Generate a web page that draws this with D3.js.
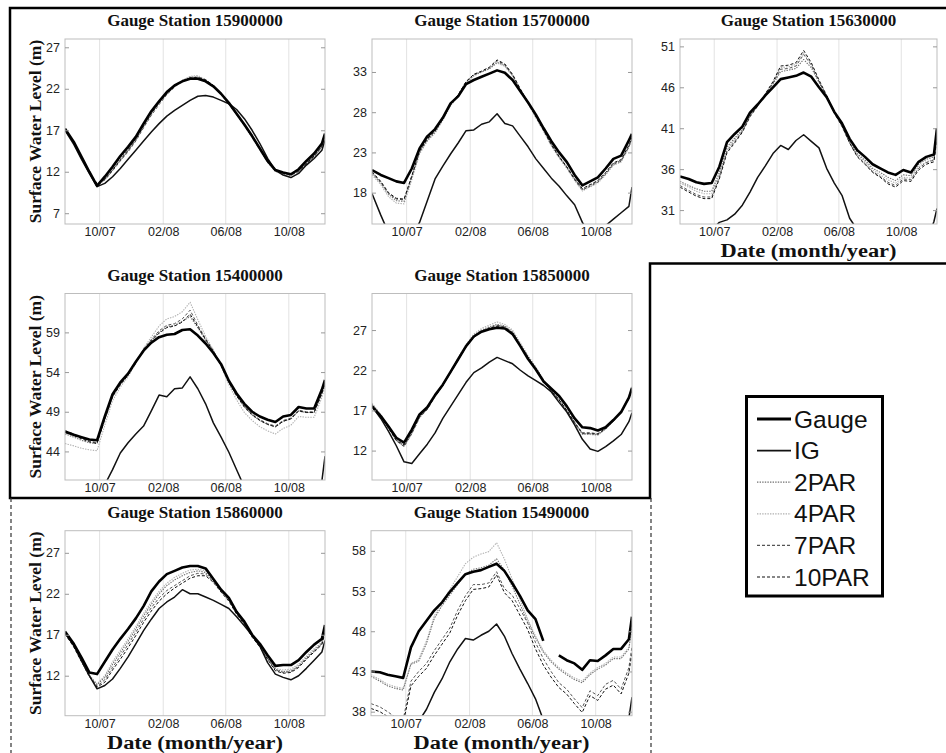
<!DOCTYPE html>
<html>
<head>
<meta charset="utf-8">
<script src="https://cdn.jsdelivr.net/npm/d3@7"></script>
<style>
  body { margin: 0; background: #fff; }
  svg { display: block; }
</style>
</head>
<body>
<svg id="fig" width="946" height="753"></svg>
<script>
// Sample dates (roughly every 15 days, Jul 2007 - Dec 2008)
const dateStrings = ["2007-07-26","2007-08-12","2007-08-27","2007-09-11","2007-09-26","2007-10-11","2007-10-26",
  "2007-11-10","2007-11-25","2007-12-10","2007-12-25","2008-01-09","2008-01-24","2008-02-08","2008-02-23",
  "2008-03-09","2008-03-24","2008-04-08","2008-04-23","2008-05-08","2008-05-23","2008-06-07","2008-06-22",
  "2008-07-07","2008-07-22","2008-08-06","2008-08-21","2008-09-05","2008-09-20","2008-10-05","2008-10-20",
  "2008-11-04","2008-11-19","2008-12-04","2008-12-10"];

const seriesNames = ["Gauge", "IG", "2PAR", "4PAR", "7PAR", "10PAR"];
const xTickDates = ["2007-10-01", "2008-02-01", "2008-06-01", "2008-10-01"];
const xTickLabels = ["10/07", "02/08", "06/08", "10/08"];

// ---- Station 15900000 ----
const yTicks15900000 = [7, 12, 17, 22, 27];
const gauge15900000 = [17.2,15.6,13.8,12.0,10.3,11.4,12.6,13.9,15.0,16.2,17.8,19.3,20.5,21.6,22.4,22.9,23.2,23.2,22.9,22.3,21.4,20.3,19.0,17.7,16.3,14.8,13.3,12.2,11.9,11.7,12.3,13.3,14.2,15.4,16.6];
const ig15900000 = [17.0,15.3,13.5,11.8,10.2,10.6,11.4,12.4,13.5,14.6,15.7,16.8,17.8,18.7,19.4,20.0,20.6,21.1,21.2,21.0,20.6,20.2,19.5,18.4,17.0,15.4,13.6,12.2,11.6,11.3,11.8,12.8,13.6,14.6,15.8];
const par2_15900000 = [17.1,15.5,13.7,11.9,10.4,11.2,12.4,13.6,14.7,16.0,17.6,19.1,20.4,21.5,22.4,23.0,23.4,23.4,23.0,22.3,21.3,20.2,18.9,17.6,16.2,14.7,13.2,12.1,11.8,11.6,12.1,13.0,13.9,15.1,16.4];
const par4_15900000 = [17.0,15.4,13.6,11.8,10.3,11.0,12.2,13.4,14.5,15.8,17.4,18.9,20.2,21.4,22.3,23.0,23.5,23.6,23.1,22.4,21.3,20.2,18.9,17.5,16.1,14.6,13.1,12.0,11.7,11.5,12.0,12.9,13.8,15.0,16.3];
const par7_15900000 = [17.1,15.5,13.7,11.9,10.5,11.0,12.1,13.3,14.4,15.7,17.3,18.8,20.1,21.3,22.2,22.9,23.3,23.3,23.0,22.3,21.3,20.2,18.9,17.6,16.2,14.7,13.2,12.1,11.8,11.6,12.0,12.9,13.8,15.0,16.3];
const par10_15900000 = [17.1,15.5,13.7,11.9,10.6,11.1,12.2,13.4,14.6,15.9,17.5,19.0,20.3,21.4,22.3,22.9,23.3,23.4,23.1,22.4,21.4,20.3,19.0,17.6,16.2,14.7,13.2,12.1,11.9,11.7,12.1,13.0,13.9,15.1,16.4];

// ---- Station 15700000 ----
const yTicks15700000 = [18, 23, 28, 33];
const gauge15700000 = [20.8,20.2,19.8,19.4,19.2,21.0,23.5,25.0,25.9,27.3,29.1,30.0,31.5,32.0,32.4,32.8,33.2,32.9,32.0,30.6,29.2,27.7,26.0,24.4,23.0,21.8,20.2,18.9,19.4,19.9,21.0,22.2,22.6,24.5,25.3];
const ig15700000 = [17.9,15.2,13.0,12.0,11.5,12.5,14.3,17.0,19.7,21.3,22.8,24.2,25.7,25.8,26.5,26.8,27.8,26.6,26.3,25.0,23.7,22.2,21.0,19.8,18.8,17.6,16.5,14.3,12.8,12.2,13.9,14.7,15.5,16.3,18.7];
const par2_15700000 = [20.4,19.2,17.8,17.0,16.9,19.9,23.0,24.5,25.5,27.1,28.9,30.1,31.7,32.6,33.0,33.4,34.2,33.8,32.6,30.8,29.2,27.5,25.8,24.0,22.5,21.2,19.7,18.4,18.9,19.4,20.4,21.6,22.0,23.8,24.8];
const par4_15700000 = [20.2,19.0,17.5,16.7,16.6,19.6,22.8,24.4,25.4,27.0,28.8,30.0,31.6,32.5,33.0,33.4,34.1,33.7,32.5,30.7,29.0,27.3,25.6,23.8,22.3,21.0,19.5,18.2,18.7,19.2,20.2,21.4,21.8,23.6,24.6];
const par7_15700000 = [20.5,19.3,17.9,17.2,17.1,20.0,23.1,24.6,25.6,27.2,29.0,30.2,31.8,32.7,33.1,33.5,34.4,33.9,32.6,30.8,29.1,27.4,25.7,23.9,22.4,21.1,19.6,18.3,18.8,19.3,20.3,21.5,21.9,23.7,24.7];
const par10_15700000 = [20.6,19.4,18.0,17.3,17.2,20.1,23.2,24.7,25.7,27.2,29.0,30.2,31.8,32.7,33.1,33.6,34.5,34.0,32.7,30.9,29.2,27.5,25.8,24.0,22.5,21.2,19.7,18.5,19.0,19.5,20.5,21.7,22.1,23.9,24.9];

// ---- Station 15630000 ----
const yTicks15630000 = [31, 36, 41, 46, 51];
const gauge15630000 = [35.1,34.8,34.4,34.2,34.3,36.3,39.3,40.3,41.2,42.9,43.9,45.0,46.0,47.0,47.2,47.4,47.8,47.3,46.0,44.8,43.0,41.6,39.7,38.3,37.5,36.6,36.1,35.6,35.3,35.9,35.6,36.9,37.5,37.8,41.0];
const ig15630000 = [25.0,26.0,27.0,27.8,28.6,29.5,29.8,30.5,31.6,33.2,35.0,36.4,37.9,38.9,38.4,39.5,40.2,39.4,38.6,36.1,34.3,32.8,30.0,28.6,27.5,26.5,25.8,25.3,25.0,25.0,25.2,25.8,27.0,29.6,31.2];
const par2_15630000 = [34.5,34.0,33.6,33.3,33.3,35.6,38.7,39.8,40.8,42.7,43.8,45.1,46.4,47.9,48.1,48.3,49.4,48.4,46.6,44.9,42.9,41.4,39.4,37.9,37.1,36.1,35.6,35.0,34.6,35.3,35.2,36.6,37.2,37.5,40.6];
const par4_15630000 = [34.3,33.8,33.3,33.0,33.0,35.3,38.4,39.6,40.7,42.6,43.8,45.2,46.6,48.4,48.5,48.8,50.2,48.8,46.8,45.0,42.9,41.3,39.3,37.8,36.9,35.9,35.3,34.7,34.3,35.0,34.9,36.3,36.9,37.2,40.2];
const par7_15630000 = [34.0,33.4,32.9,32.6,32.6,35.0,38.2,39.4,40.6,42.5,43.7,45.1,46.5,48.2,48.3,48.6,50.0,48.7,46.7,44.9,42.8,41.2,39.2,37.6,36.7,35.7,35.1,34.4,34.0,34.8,34.7,36.1,36.8,37.1,39.9];
const par10_15630000 = [33.8,33.2,32.7,32.4,32.4,34.8,38.0,39.2,40.5,42.4,43.7,45.2,46.7,48.6,48.7,49.0,50.5,49.0,46.9,45.0,42.9,41.3,39.2,37.5,36.6,35.6,35.0,34.2,33.8,34.6,34.5,35.9,36.6,36.9,39.7];

// ---- Station 15400000 ----
const yTicks15400000 = [44, 49, 54, 59];
const gauge15400000 = [46.5,46.1,45.8,45.5,45.4,48.4,51.2,52.7,53.8,55.3,56.7,57.7,58.4,58.7,58.8,59.3,59.4,58.6,57.6,56.4,55.0,52.9,51.3,50.0,49.0,48.4,48.0,47.7,48.4,48.6,49.6,49.4,49.4,51.8,53.0];
const ig15400000 = [34.0,35.0,36.0,37.0,38.0,39.8,41.7,43.8,45.1,46.2,47.2,49.1,51.1,50.9,51.9,52.0,53.4,51.9,50.0,47.6,45.8,43.9,41.7,39.5,38.0,37.0,36.2,35.8,35.7,36.0,36.7,37.6,38.8,40.3,43.4];
const par2_15400000 = [46.2,45.8,45.4,45.1,45.0,48.0,50.9,52.4,53.6,55.2,56.8,58.0,59.0,59.7,59.9,60.4,61.0,59.6,58.0,56.6,54.9,52.7,51.0,49.6,48.6,47.9,47.4,47.1,47.8,48.1,49.1,48.9,48.9,51.3,52.6];
const par4_15400000 = [45.0,44.7,44.4,44.2,44.1,47.3,50.4,52.1,53.4,55.1,57.0,58.4,59.8,60.7,61.0,61.6,62.8,60.6,58.5,56.8,54.8,52.4,50.5,48.9,47.9,47.1,46.6,46.2,46.9,47.3,48.4,48.3,48.3,50.8,52.2];
const par7_15400000 = [46.6,46.2,45.7,45.3,45.1,48.2,51.0,52.5,53.7,55.3,56.9,58.1,59.2,59.9,60.1,60.7,61.8,59.9,58.2,56.7,54.9,52.8,51.1,49.7,48.7,48.0,47.5,47.2,47.9,48.2,49.2,49.0,49.0,51.4,52.7];
const par10_15400000 = [46.4,46.0,45.6,45.2,45.0,48.1,50.9,52.4,53.6,55.2,56.8,57.9,58.9,59.6,59.8,60.3,61.3,59.7,58.1,56.6,54.8,52.7,51.0,49.6,48.6,47.9,47.4,47.1,47.8,48.1,49.1,48.9,48.9,51.3,52.5];

// ---- Station 15850000 ----
const yTicks15850000 = [12, 17, 22, 27];
const gauge15850000 = [17.5,16.3,15.0,13.6,13.0,14.6,16.5,17.4,18.9,20.2,21.8,23.4,25.0,26.2,26.8,27.1,27.3,27.2,26.5,25.0,23.4,22.1,20.6,19.7,18.8,17.5,16.0,14.9,14.8,14.5,14.9,15.8,16.8,18.6,19.8];
const ig15850000 = [17.5,16.0,14.4,12.6,10.6,10.4,11.6,12.8,14.2,16.0,17.5,19.0,20.5,21.7,22.3,23.0,23.6,23.2,22.8,22.0,21.3,20.7,20.1,19.3,18.0,16.8,15.2,13.4,12.2,11.9,12.5,13.2,14.0,15.6,16.7];
const par2_15850000 = [17.8,16.4,14.9,13.3,12.6,14.2,16.2,17.2,18.8,20.2,21.8,23.4,25.0,26.3,27.0,27.4,27.7,27.5,26.8,25.2,23.7,22.3,20.7,19.5,18.4,17.0,15.5,14.1,14.1,14.0,14.7,15.7,16.8,18.6,19.9];
const par4_15850000 = [17.9,16.5,14.9,13.3,12.5,14.1,16.1,17.2,18.8,20.3,21.9,23.6,25.2,26.5,27.2,27.6,28.0,27.7,27.0,25.4,23.8,22.4,20.8,19.5,18.3,16.9,15.4,14.0,14.0,13.9,14.7,15.7,16.9,18.7,20.0];
const par7_15850000 = [17.7,16.3,14.8,13.2,12.5,14.1,16.1,17.1,18.7,20.1,21.7,23.3,24.9,26.2,26.9,27.3,27.6,27.4,26.7,25.1,23.6,22.2,20.6,19.4,18.3,16.9,15.4,14.1,14.1,14.0,14.7,15.7,16.8,18.5,19.8];
const par10_15850000 = [17.6,16.2,14.8,13.3,12.7,14.3,16.3,17.3,18.8,20.1,21.7,23.3,24.9,26.1,26.8,27.2,27.5,27.3,26.6,25.0,23.5,22.2,20.6,19.4,18.3,17.0,15.5,14.2,14.2,14.1,14.8,15.7,16.8,18.5,19.8];

// ---- Station 15860000 ----
const yTicks15860000 = [12, 17, 22, 27];
const gauge15860000 = [17.4,15.9,14.2,12.4,12.2,13.7,15.2,16.5,17.7,19.0,20.5,22.3,23.5,24.4,24.8,25.2,25.4,25.4,25.1,23.8,22.5,21.5,19.8,18.6,17.0,15.9,14.5,13.2,13.3,13.3,13.9,14.9,15.8,16.5,18.2];
const ig15860000 = [17.2,15.7,13.8,12.0,10.4,10.8,11.6,12.9,14.3,15.9,17.5,18.9,20.2,21.0,21.6,22.5,22.0,22.0,21.6,21.2,20.7,20.2,19.2,18.1,16.9,15.6,13.6,12.2,11.8,11.5,12.0,12.9,13.9,14.9,16.3];
const par2_15860000 = [17.2,15.6,13.8,12.0,10.9,11.8,13.4,14.8,16.2,17.7,19.3,20.7,22.0,23.0,23.7,24.2,24.6,24.8,24.6,23.6,22.4,21.3,19.7,18.5,16.9,15.7,14.2,12.8,12.5,12.6,13.2,14.2,15.1,16.0,17.5];
const par4_15860000 = [17.3,15.7,13.9,12.1,11.0,12.0,13.7,15.1,16.5,18.0,19.6,21.0,22.3,23.3,24.0,24.5,24.9,25.0,24.8,23.7,22.5,21.4,19.8,18.6,17.0,15.8,14.3,12.9,12.7,12.8,13.4,14.4,15.3,16.1,17.7];
const par7_15860000 = [17.2,15.6,13.8,12.0,10.7,11.5,13.0,14.4,15.8,17.3,18.9,20.3,21.5,22.4,23.0,23.6,24.2,24.5,24.4,23.5,22.3,21.2,19.6,18.4,16.8,15.6,14.1,12.7,12.4,12.5,13.1,14.1,15.0,15.9,17.4];
const par10_15860000 = [17.1,15.5,13.7,11.9,10.6,11.2,12.7,14.0,15.4,16.9,18.5,19.9,21.1,22.0,22.7,23.3,23.9,24.2,24.2,23.4,22.2,21.1,19.5,18.3,16.7,15.5,14.0,12.6,12.3,12.4,13.0,14.0,14.9,15.8,17.3];

// ---- Station 15490000 (gauge record has a gap in mid 2008) ----
const yTicks15490000 = [38, 43, 48, 53, 58];
const gauge15490000 = [43.0,42.9,42.6,42.4,42.2,46.0,48.0,49.3,50.6,51.6,52.9,54.0,55.1,55.4,55.6,56.0,56.4,55.5,54.0,52.4,50.6,49.5,46.8,null,45.0,44.4,44.0,43.2,44.4,44.3,45.0,45.8,45.8,47.0,49.8];
const ig15490000 = [33.0,33.5,34.0,34.5,35.0,35.8,36.8,38.3,40.4,42.1,44.2,45.8,47.1,46.9,47.5,48.0,48.9,47.4,45.2,43.3,41.5,39.6,37.0,35.5,34.5,33.5,33.0,32.8,32.8,33.0,33.5,34.5,35.5,37.2,39.8];
const par2_15490000 = [42.4,41.8,41.2,40.9,40.7,43.9,44.3,46.5,49.6,51.2,52.5,53.8,55.1,55.7,55.9,56.2,57.0,55.6,53.6,51.4,49.2,47.2,45.4,44.2,43.3,42.6,42.0,41.6,42.6,43.3,43.8,44.6,44.6,45.8,48.6];
const par4_15490000 = [42.6,42.0,41.4,41.1,40.9,44.0,44.5,46.8,49.9,51.6,53.2,54.8,56.4,57.2,57.6,57.9,59.0,57.0,54.5,52.0,49.5,47.4,45.6,44.4,43.5,42.8,42.2,41.8,42.8,43.5,44.0,44.8,44.8,46.0,48.3];
const par7_15490000 = [39.0,38.6,38.0,37.3,37.0,41.8,43.0,44.0,45.6,47.0,48.4,50.6,52.4,53.8,53.8,54.0,55.4,53.3,52.5,50.8,49.0,46.6,44.6,43.0,41.6,40.8,39.6,38.5,40.6,40.0,41.4,41.9,40.8,43.5,46.1];
const par10_15490000 = [38.4,38.0,37.4,36.8,36.5,41.2,42.4,43.4,45.0,46.4,47.8,50.0,51.8,53.2,53.3,53.5,55.0,52.8,51.8,50.0,48.2,45.8,43.8,42.3,41.0,40.2,39.0,37.9,40.0,39.4,40.8,41.3,40.2,42.8,45.4];

// Panel placement and axis ranges
const panels = [
  { id: "15900000", x: 65,  y: 39,    w: 260, h: 185,   yDomain: [5.7, 28],     yTicks: yTicks15900000, yLabel: true,  xLabel: false,
    series: [gauge15900000, ig15900000, par2_15900000, par4_15900000, par7_15900000, par10_15900000] },
  { id: "15700000", x: 372, y: 39,    w: 260, h: 185,   yDomain: [14.1, 37.1],  yTicks: yTicks15700000, yLabel: false, xLabel: false,
    series: [gauge15700000, ig15700000, par2_15700000, par4_15700000, par7_15700000, par10_15700000] },
  { id: "15630000", x: 680, y: 39,    w: 257, h: 185,   yDomain: [29.3, 51.9],  yTicks: yTicks15630000, yLabel: false, xLabel: true,
    series: [gauge15630000, ig15630000, par2_15630000, par4_15630000, par7_15630000, par10_15630000] },
  { id: "15400000", x: 65,  y: 293.5, w: 260, h: 186.5, yDomain: [40.4, 63.9],  yTicks: yTicks15400000, yLabel: true,  xLabel: false,
    series: [gauge15400000, ig15400000, par2_15400000, par4_15400000, par7_15400000, par10_15400000] },
  { id: "15850000", x: 372, y: 293.5, w: 260, h: 186.5, yDomain: [8.34, 31.55], yTicks: yTicks15850000, yLabel: false, xLabel: false,
    series: [gauge15850000, ig15850000, par2_15850000, par4_15850000, par7_15850000, par10_15850000] },
  { id: "15860000", x: 65,  y: 530.7, w: 260, h: 185,   yDomain: [7.12, 29.7],  yTicks: yTicks15860000, yLabel: true,  xLabel: true,
    series: [gauge15860000, ig15860000, par2_15860000, par4_15860000, par7_15860000, par10_15860000] },
  { id: "15490000", x: 371, y: 530.7, w: 261, h: 185,   yDomain: [37.5, 60.5],  yTicks: yTicks15490000, yLabel: false, xLabel: true,
    series: [gauge15490000, ig15490000, par2_15490000, par4_15490000, par7_15490000, par10_15490000] }
];

// Line styles, one per series
const styles = {
  "Gauge": { stroke: "#000",    width: 2.6, dash: null },
  "IG":    { stroke: "#111",    width: 1.5, dash: null },
  "2PAR":  { stroke: "#707070", width: 1.1, dash: "1.4,1.2" },
  "4PAR":  { stroke: "#b0b0b0", width: 1.1, dash: "1.4,1.2" },
  "7PAR":  { stroke: "#555",    width: 1.0, dash: "3,2" },
  "10PAR": { stroke: "#111",    width: 1.0, dash: "3,2" }
};
const drawOrder = ["4PAR", "2PAR", "7PAR", "10PAR", "IG", "Gauge"];

const parse = d3.timeParse("%Y-%m-%d");
const dates = dateStrings.map(parse);
const tickDates = xTickDates.map(parse);
const xDomain = [parse("2007-07-26"), parse("2008-12-10")];

const svg = d3.select("#fig");
const defs = svg.append("defs");
const serif = "'Liberation Serif', 'DejaVu Serif', serif";
const sans = "'Liberation Sans', Arial, sans-serif";

panels.forEach((p, i) => {
  const g = svg.append("g").attr("transform", `translate(${p.x},${p.y})`);
  const x = d3.scaleTime().domain(xDomain).range([0, p.w]);
  const y = d3.scaleLinear().domain(p.yDomain).range([p.h, 0]);

  defs.append("clipPath").attr("id", "clip" + i)
    .append("rect").attr("x", 0).attr("y", 0).attr("width", p.w).attr("height", p.h);

  g.append("rect").attr("width", p.w).attr("height", p.h).attr("fill", "#fff");

  // vertical grid lines at the month ticks
  g.selectAll("line.grid").data(tickDates).join("line")
    .attr("class", "grid")
    .attr("x1", d => x(d)).attr("x2", d => x(d))
    .attr("y1", 0).attr("y2", p.h)
    .attr("stroke", "#e2e2e2").attr("stroke-width", 1);

  // series lines
  const plot = g.append("g").attr("clip-path", `url(#clip${i})`);
  drawOrder.forEach(name => {
    const k = seriesNames.indexOf(name);
    const vals = p.series[k];
    const pts = dates.map((d, j) => [d, vals[j]]);
    const line = d3.line()
      .defined(d => d[1] !== null)
      .x(d => x(d[0])).y(d => y(d[1]));
    const st = styles[name];
    plot.append("path")
      .attr("d", line(pts))
      .attr("fill", "none")
      .attr("stroke", st.stroke)
      .attr("stroke-width", st.width)
      .attr("stroke-linejoin", "round")
      .attr("stroke-dasharray", st.dash);
  });

  // axes box
  g.append("rect").attr("width", p.w).attr("height", p.h)
    .attr("fill", "none").attr("stroke", "#bdbdbd").attr("stroke-width", 1);

  const yAxisL = g.append("g").call(
    d3.axisLeft(y).tickValues(p.yTicks).tickSizeInner(-4).tickSizeOuter(0).tickPadding(5));
  const yAxisR = g.append("g").attr("transform", `translate(${p.w},0)`).call(
    d3.axisRight(y).tickValues(p.yTicks).tickSizeInner(-4).tickSizeOuter(0).tickFormat(""));
  const xAxis = g.append("g").attr("transform", `translate(0,${p.h})`).call(
    d3.axisBottom(x).tickValues(tickDates).tickSizeInner(0).tickSizeOuter(0).tickPadding(3)
      .tickFormat((d, j) => xTickLabels[j]));

  [yAxisL, yAxisR, xAxis].forEach(a => {
    a.select(".domain").remove();
    a.selectAll(".tick line").attr("stroke", "#999");
    a.selectAll(".tick text").attr("fill", "#222")
      .style("font-family", sans).style("font-size", "12.5px");
  });

  // title
  svg.append("text")
    .attr("x", p.x + p.w / 2).attr("y", p.y - 13)
    .attr("text-anchor", "middle")
    .style("font-family", serif).style("font-weight", "bold").style("font-size", "17px")
    .attr("fill", "#111")
    .text("Gauge Station " + p.id);

  if (p.yLabel) {
    svg.append("text")
      .attr("transform", `translate(41,${p.y + p.h / 2}) rotate(-90)`)
      .attr("text-anchor", "middle")
      .style("font-family", serif).style("font-weight", "bold").style("font-size", "17.5px")
      .attr("fill", "#111")
      .text("Surface Water Level (m)");
  }
  if (p.xLabel) {
    svg.append("text")
      .attr("x", p.x + p.w / 2).attr("y", p.y + p.h + 33)
      .attr("text-anchor", "middle")
      .attr("textLength", 176).attr("lengthAdjust", "spacingAndGlyphs")
      .style("font-family", serif).style("font-weight", "bold").style("font-size", "18px")
      .attr("fill", "#111")
      .text("Date (month/year)");
  }
});

// outer solid frame around the first five panels
svg.append("path")
  .attr("d", "M10,8 L949,8 L949,263.5 L650,263.5 L650,498 L10,498 Z")
  .attr("fill", "none").attr("stroke", "#000").attr("stroke-width", 2.5);

// dashed frame around the last row
svg.append("path")
  .attr("d", "M11,498 L11,756 M651,498 L651,756")
  .attr("fill", "none").attr("stroke", "#333").attr("stroke-width", 1.2)
  .attr("stroke-dasharray", "4,3");

// legend
const lg = svg.append("g");
lg.append("rect").attr("x", 746.5).attr("y", 396.5).attr("width", 136).attr("height", 199.5)
  .attr("fill", "#fff").attr("stroke", "#000").attr("stroke-width", 3);
const legendY = d3.scalePoint().domain(seriesNames).range([419, 577]);
seriesNames.forEach(name => {
  const st = styles[name];
  const yy = legendY(name);
  lg.append("line")
    .attr("x1", 757).attr("x2", 791).attr("y1", yy).attr("y2", yy)
    .attr("stroke", st.stroke).attr("stroke-width", name === "Gauge" ? 3 : (name === "IG" ? 1.6 : 1.2))
    .attr("stroke-dasharray", st.dash);
  lg.append("text")
    .attr("x", 794).attr("y", yy + 8.5)
    .style("font-family", sans).style("font-size", "24.5px")
    .attr("fill", "#111")
    .text(name);
});
</script>
</body>
</html>
